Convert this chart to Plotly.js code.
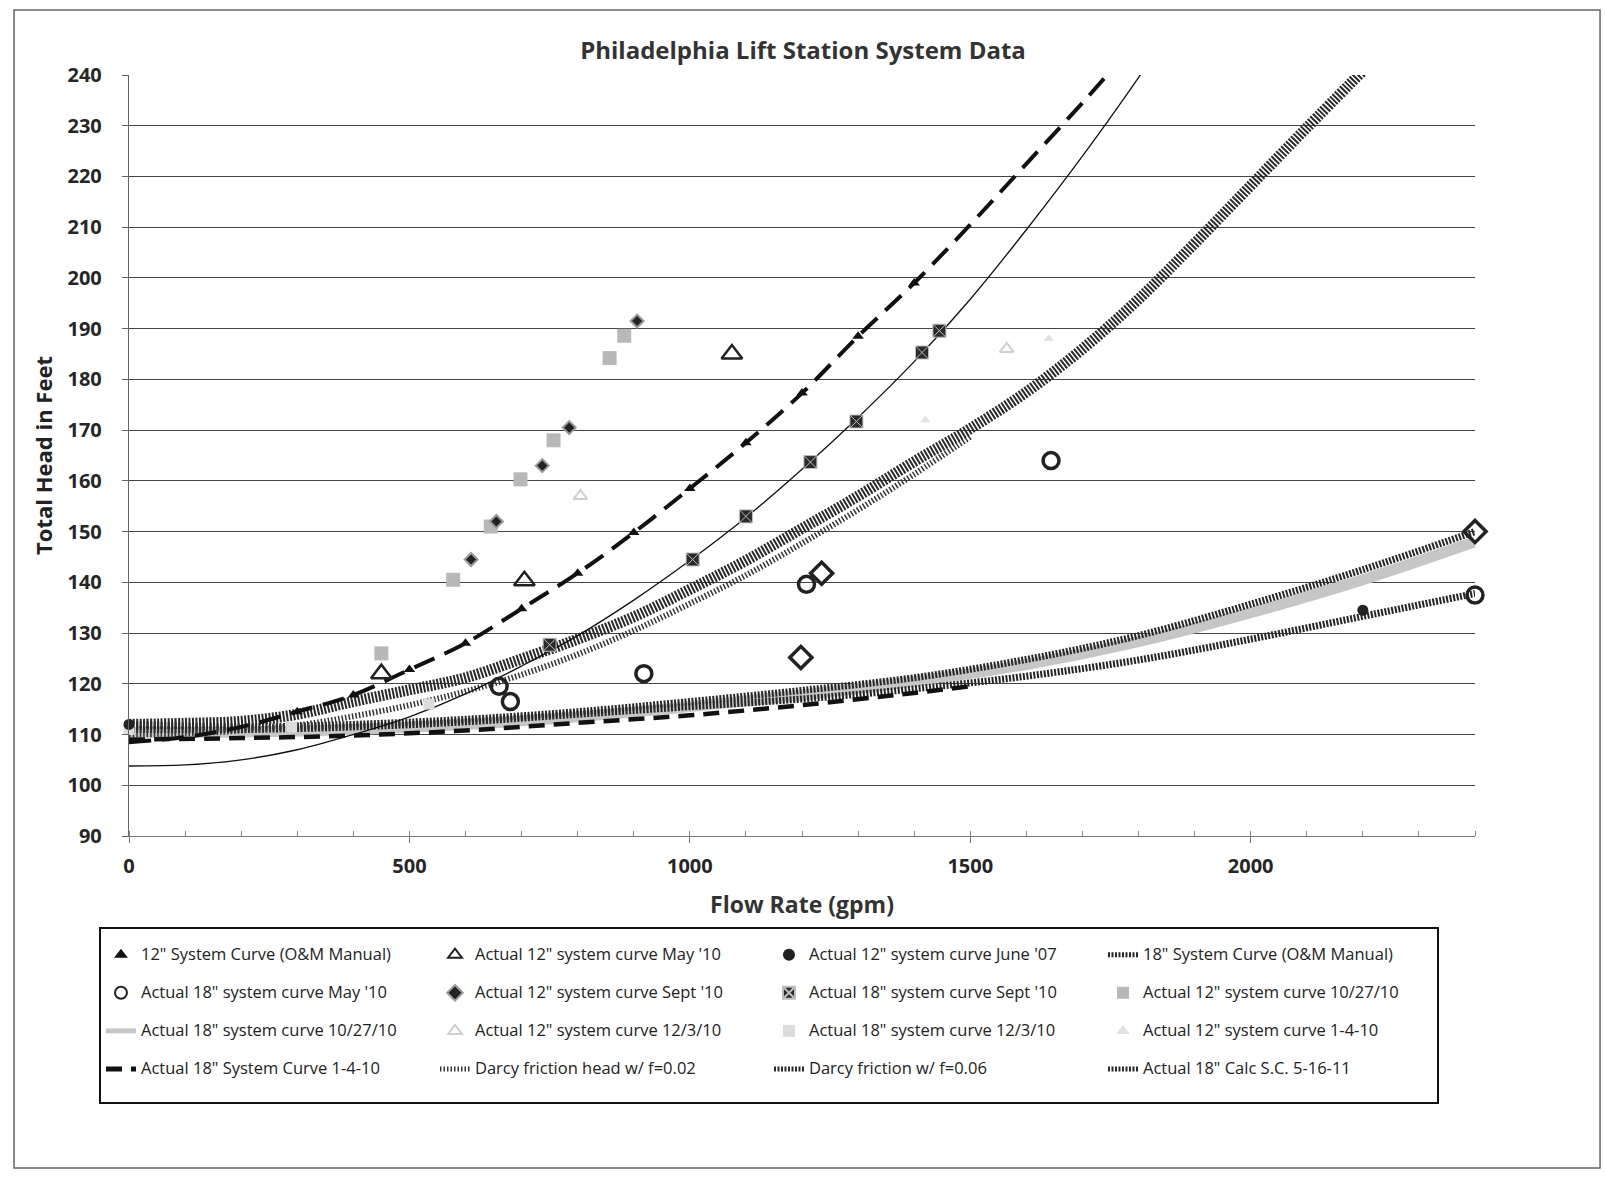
<!DOCTYPE html>
<html><head><meta charset="utf-8">
<script src="https://cdn.plot.ly/plotly-3.0.1.min.js"></script>
<style>html,body{margin:0;padding:0;background:#fff}#chart{width:1606px;height:1177px}</style>
</head><body><div id="chart"></div>
<script>
// ---------- data ----------
const chartTitle = "Philadelphia Lift Station System Data";
const xTitle = "Flow Rate (gpm)";
const yTitle = "Total Head in Feet";

const legendNames = [
  "12\" System Curve (O&M Manual)",
  "Actual 12\" system curve May '10",
  "Actual 12\" system curve June '07",
  "18\" System Curve (O&M Manual)",
  "Actual 18\" system curve May '10",
  "Actual 12\" system curve Sept '10",
  "Actual 18\" system curve Sept '10",
  "Actual 12\" system curve 10/27/10",
  "Actual 18\" system curve 10/27/10",
  "Actual 12\" system curve 12/3/10",
  "Actual 18\" system curve 12/3/10",
  "Actual 12\" system curve 1-4-10",
  "Actual 18\" System Curve 1-4-10",
  "Darcy friction head w/ f=0.02",
  "Darcy friction w/ f=0.06",
  "Actual 18\" Calc S.C. 5-16-11"
];

// 12" System Curve (O&M Manual)
const om12CurveFlow = [0,100,200,300,400,500,600,700,800,900,1000,1100,1200,1300,1400,1500,1600,1700,1800];
const om12CurveHead = [108.5,109.5,111.5,114.5,117.8,122.8,128.0,134.8,141.8,149.8,158.5,167.5,177.3,188.5,199.0,210.5,222.5,234.5,247.0];
const om12PtsFlow = [300,400,500,600,700,800,900,1000,1100,1200,1300,1400];
const om12PtsHead = [114.5,117.8,122.8,128.0,134.8,141.8,149.8,158.5,167.5,177.3,188.5,199.0];

// Actual 12" May '10
const may10_12Flow = [450,705,1075];
const may10_12Head = [122,140.3,185];

// Actual 12" June '07
const jun07_12Flow = [0,2200];
const jun07_12Head = [112,134.5];

// 18" System Curve (O&M Manual)
const om18Flow = [0,200,400,600,800,1000,1200,1400,1600,1800,2000,2200,2400];
const om18Head = [111,111,111.5,112.5,114,115.5,117,119,121.5,124.7,128.8,133.3,137.8];

// Actual 18" May '10
const may10_18Flow = [660,680,918,1208,1644,2400];
const may10_18Head = [119.5,116.5,122,139.6,164,137.5];

// Actual 12" Sept '10
const sep10_12Flow = [610,655,737,785,906];
const sep10_12Head = [144.5,152,163,170.5,191.5];

// Actual 18" Sept '10 (points and fitted curve)
const sep10_18Flow = [750,1005,1100,1215,1297,1414,1445];
const sep10_18Head = [127.7,144.5,153,163.7,171.7,185.3,189.6];
const sep10_18FitFlow = [0,100,200,300,400,500,600,700,800,900,1000,1100,1200,1300,1400,1500,1600,1700,1800,1900];
const sep10_18FitHead = [103.8,104,105,107,110,113.5,118,123.5,129.5,136.5,144.3,152.8,162.3,172.5,183.5,195.8,209.5,224,239.5,256];

// Actual 12" 10/27/10
const oct27_12Flow = [450,578,645,698,757,857,883];
const oct27_12Head = [126,140.5,151,160.3,168,184.2,188.6];

// Actual 18" 10/27/10
const oct27_18Flow = [0,200,400,600,800,1000,1200,1400,1600,1800,2000,2200,2400];
const oct27_18Head = [110.5,110.5,111,112,113.5,115.5,117.8,120.5,123.8,128.3,134,140.5,148];

// Actual 12" 12/3/10
const dec3_12Flow = [805,1565];
const dec3_12Head = [157,186];

// Actual 18" 12/3/10
const dec3_18Flow = [0,290,535];
const dec3_18Head = [111,111.5,116];

// Actual 12" 1-4-10
const jan4_12Flow = [1420,1640];
const jan4_12Head = [172,188];

// Actual 18" 1-4-10
const jan4_18Flow = [0,200,400,600,800,1000,1200,1400,1500];
const jan4_18Head = [109,109.3,109.8,110.8,112.3,113.8,115.8,118.2,119.5];

// Darcy f=0.02
const darcy02Flow = [0,100,200,300,400,500,600,700,800,900,1000,1100,1200,1300,1400,1500];
const darcy02Head = [110,110.2,110.8,111.8,113.6,115.8,118.5,121.8,125.8,130.5,135.8,141.4,147.7,154.3,161.3,168.7];

// Darcy f=0.06
const darcy06Flow = [0,100,200,300,400,500,600,700,800,900,1000,1100,1200,1300,1400,1500,1600,1700,1800,1900,2000,2100,2200];
const darcy06Head = [112,112.2,112.6,114,116.5,118.8,121.2,124.9,128.8,133.2,138.6,144.3,150.6,157,163.8,170.3,177.5,186,195.8,206.8,218.2,229.6,240.8];

// Actual 18" Calc S.C. 5-16-11
const calc18Flow = [0,200,400,600,800,1000,1200,1400,1600,1800,2000,2200,2400];
const calc18Head = [112,111.5,112,113,114.5,116.5,118.7,121.2,124.8,129.5,135.7,142.5,150];
const calc18PtsFlow = [1198,1235,2400];
const calc18PtsHead = [125.2,141.8,150];

const xTickVals = [0,500,1000,1500,2000];
const yTickVals = [90,100,110,120,130,140,150,160,170,180,190,200,210,220,230,240];

// ---------- build chart ----------
// legend entries: larger first line, empty second line to give the taller rows of the original
const nm = i => '<span style="font-size:16.5px">' + legendNames[i] + '</span><br> ';
const hatch = '2px,1.5px';

const traces = [
  {x: oct27_18Flow, y: oct27_18Head, name: nm(8), legendrank: 9, mode: 'lines',
   line: {color: '#c6c6c6', width: 11, shape: 'spline'}},
  {x: om18Flow, y: om18Head, name: nm(3), legendrank: 4, mode: 'lines',
   line: {color: '#262626', width: 7, dash: hatch, shape: 'spline'}},
  {x: calc18Flow, y: calc18Head, name: nm(15), legendrank: 16, mode: 'lines',
   line: {color: '#282828', width: 7, dash: hatch, shape: 'spline'}, legendgroup: 'calc'},
  {x: jan4_18Flow, y: jan4_18Head, name: nm(12), legendrank: 13, mode: 'lines',
   line: {color: '#111', width: 4.5, dash: '16px,9px', shape: 'spline'}},
  {x: darcy02Flow, y: darcy02Head, name: nm(13), legendrank: 14, mode: 'lines',
   line: {color: '#333', width: 6, dash: '1.5px,2px', shape: 'spline'}},
  {x: darcy06Flow, y: darcy06Head, name: nm(14), legendrank: 15, mode: 'lines',
   line: {color: '#2a2a2a', width: 11, dash: hatch, shape: 'spline'}},
  {x: sep10_18FitFlow, y: sep10_18FitHead, name: 'fit', showlegend: false, legendgroup: 'sep18', mode: 'lines',
   line: {color: '#111', width: 1.3, shape: 'spline'}},
  {x: om12CurveFlow, y: om12CurveHead, name: 'om12', showlegend: false, legendgroup: 'om12', mode: 'lines',
   line: {color: '#111', width: 4, dash: '22px,11px', shape: 'spline'}},
  {x: oct27_12Flow, y: oct27_12Head, name: nm(7), legendrank: 8, mode: 'markers',
   marker: {symbol: 'square', size: 14, color: '#b8b8b8'}},
  {x: dec3_12Flow, y: dec3_12Head, name: nm(9), legendrank: 10, mode: 'markers',
   marker: {symbol: 'triangle-up-open', size: 12, color: '#cfcfcf', line: {width: 2}}},
  {x: dec3_18Flow, y: dec3_18Head, name: nm(10), legendrank: 11, mode: 'markers',
   marker: {symbol: 'square', size: 11, color: '#dcdcdc'}},
  {x: jan4_12Flow, y: jan4_12Head, name: nm(11), legendrank: 12, mode: 'markers',
   marker: {symbol: 'triangle-up', size: 9, color: '#e2e2e2'}},
  {x: om12PtsFlow, y: om12PtsHead, name: nm(0), legendrank: 1, mode: 'markers', legendgroup: 'om12',
   marker: {symbol: 'triangle-up', size: 10, color: '#111'}},
  {x: may10_12Flow, y: may10_12Head, name: nm(1), legendrank: 2, mode: 'markers',
   marker: {symbol: 'triangle-up-open', size: 18, color: '#222', line: {width: 2.5}}},
  {x: jun07_12Flow, y: jun07_12Head, name: nm(2), legendrank: 3, mode: 'markers',
   marker: {symbol: 'circle', size: 11, color: '#222'}},
  {x: may10_18Flow, y: may10_18Head, name: nm(4), legendrank: 5, mode: 'markers',
   marker: {symbol: 'circle-open', size: 16, color: '#222', line: {width: 3.5}}},
  {x: sep10_12Flow, y: sep10_12Head, name: nm(5), legendrank: 6, mode: 'markers',
   marker: {symbol: 'diamond', size: 10, color: '#222', line: {color: '#9a9a9a', width: 2}}},
  {x: sep10_18Flow, y: sep10_18Head, name: nm(6), legendrank: 7, mode: 'markers', legendgroup: 'sep18',
   marker: {symbol: 'square-x', size: 13, color: '#2a2a2a', line: {color: '#bdbdbd', width: 1}}},
  {x: calc18PtsFlow, y: calc18PtsHead, name: 'calc pts', showlegend: false, legendgroup: 'calc', mode: 'markers',
   marker: {symbol: 'diamond-open', size: 17, color: '#222', line: {width: 3.5}}}
];
traces.forEach(t => { if (t.mode === 'markers') t.cliponaxis = false; t.hoverinfo = 'x+y'; });

const tickFont = {family: 'Open Sans', size: 20, color: '#262626', weight: 'bold'};

const layout = {
  width: 1606, height: 1177,
  paper_bgcolor: '#fff', plot_bgcolor: '#fff',
  margin: {l: 129, r: 131, t: 75, b: 341},
  title: {text: chartTitle, x: 0.5, xref: 'container', y: 1 - 51/1177, yref: 'container', yanchor: 'middle',
          font: {family: 'Open Sans', size: 24, color: '#333', weight: 'bold'}},
  xaxis: {range: [0, 2400], tickvals: xTickVals, ticktext: xTickVals.map(String),
          showgrid: false, zeroline: false, showline: true, linecolor: '#777', linewidth: 1.2,
          ticks: 'outside', ticklen: 6, tickcolor: '#777', ticklabelstandoff: 6,
          minor: {dtick: 100, tick0: 0, ticks: 'inside', ticklen: 5, tickcolor: '#888', showgrid: false},
          tickfont: tickFont,
          title: {text: xTitle, standoff: 18, font: {family: 'Open Sans', size: 23, color: '#333', weight: 'bold'}}},
  yaxis: {range: [90, 240], tickvals: yTickVals, ticktext: yTickVals.map(String),
          showgrid: true, gridcolor: '#444', gridwidth: 1, zeroline: false,
          showline: true, linecolor: '#666', linewidth: 1.2,
          ticks: 'outside', ticklen: 6, tickcolor: '#666', ticklabelstandoff: 16,
          tickfont: tickFont,
          title: {text: yTitle, standoff: 8, font: {family: 'Open Sans', size: 22, color: '#222', weight: 'bold'}}},
  legend: {orientation: 'h', x: -0.0223, y: -0.1196, xanchor: 'left', yanchor: 'top',
           entrywidth: 289, entrywidthmode: 'pixels', itemwidth: 30, valign: 'top',
           bordercolor: '#111', borderwidth: 2, bgcolor: '#fff', traceorder: 'normal',
           title: {text: ' ', side: 'top', font: {size: 8}},
           itemsizing: 'constant', font: {family: 'Open Sans', size: 13.5, color: '#222'}},
  shapes: [{type: 'rect', xref: 'paper', yref: 'paper', x0: -0.0854, x1: 1.0929, y0: -0.4363, y1: 1.0854,
            line: {color: '#666', width: 1.5}, layer: 'below'}],
  showlegend: true
};

Plotly.newPlot('chart', traces, layout, {displayModeBar: false, staticPlot: true});
</script></body></html>
